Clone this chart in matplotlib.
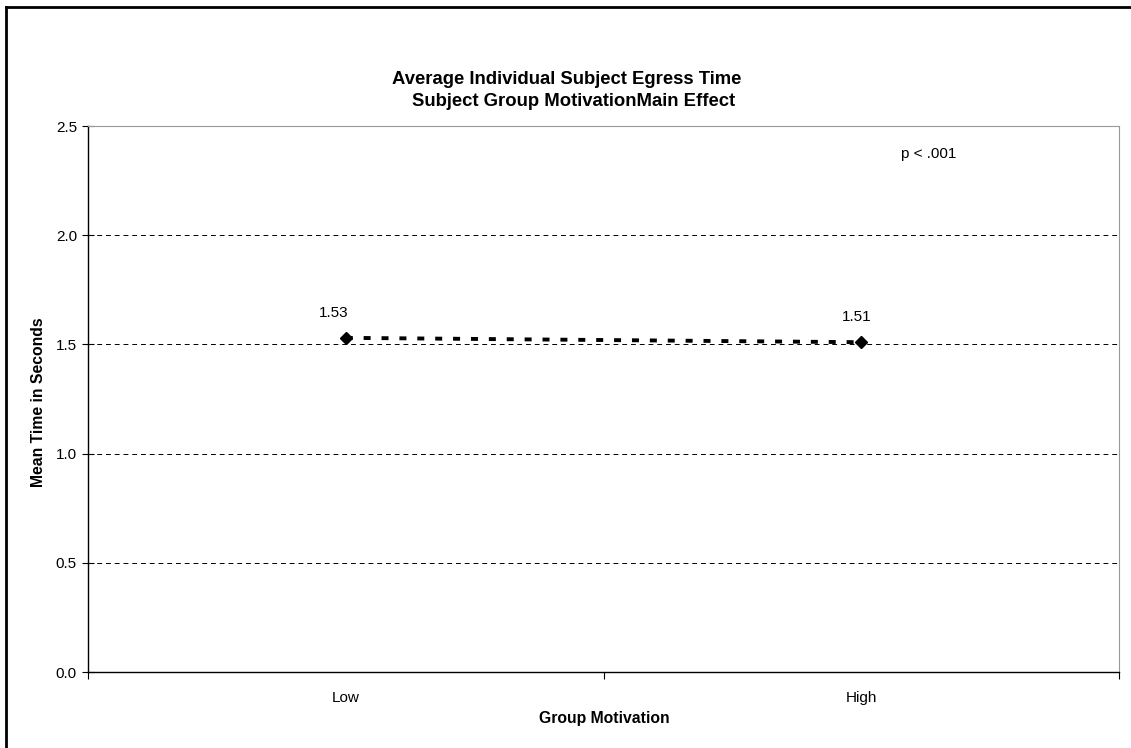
import matplotlib.pyplot as plt
from matplotlib.lines import Line2D

groups = ['Low', 'High']
mean_time = [1.53, 1.51]
point_labels = ['1.53', '1.51']
y_ticks = [0.0, 0.5, 1.0, 1.5, 2.0, 2.5]

plt.rcParams['font.family'] = ['Liberation Sans', 'DejaVu Sans']

W, H = 1131, 748
fig = plt.figure(figsize=(W / 100, H / 100), dpi=100)
ax = fig.add_axes([88 / W, 1 - 672 / H, (1119 - 88) / W, (672 - 126) / H])

x = list(range(len(groups)))
ax.plot(x, mean_time, color='black', linestyle=(0, (1.8, 2.8)), linewidth=2.8,
        marker='D', markersize=6, markerfacecolor='black', markeredgecolor='black')
for xi, yi, lab in zip(x, mean_time, point_labels):
    ax.annotate(lab, (xi, yi), xytext=(-9 if xi == 0 else -3, 18), textcoords='offset points',
                ha='center', va='center', fontsize=11)

ax.set_xlim(-0.5, 1.5)
ax.set_ylim(0, 2.5)
ax.set_yticks(y_ticks)
ax.set_yticklabels(['%.1f' % v for v in y_ticks], fontsize=11)
ax.set_xticks(x)
ax.set_xticklabels(groups, fontsize=11)
ax.set_xticks([-0.5, 0.5, 1.5], minor=True)
ax.tick_params(axis='x', which='major', length=0, pad=14)
ax.tick_params(axis='x', which='minor', length=5, direction='out', width=0.8)
ax.tick_params(axis='y', length=8, direction='inout', width=0.8, pad=4)

for v in y_ticks[1:-1]:
    ax.axhline(v, color='black', linestyle=(0, (5, 4)), linewidth=0.7, zorder=0)

ax.spines['top'].set_color('#999999')
ax.spines['right'].set_color('#999999')
ax.spines['left'].set_linewidth(1.0)
ax.spines['bottom'].set_linewidth(1.0)

ax.text(1.13, 2.37, 'p < .001', ha='center', va='center', fontsize=11)

# axis titles
fig.text(604 / W, 1 - 719 / H, 'Group Motivation', ha='center', va='center',
         fontsize=11.3, fontweight='bold')
fig.text(39 / W, 1 - 402 / H, 'Mean Time in Seconds', ha='center', va='center',
         rotation=90, fontsize=11.3, fontweight='bold')

fig.text(567 / W, 1 - 80 / H, 'Average Individual Subject Egress Time', ha='center', va='center',
         fontsize=13.3, fontweight='bold')
fig.text(574 / W, 1 - 101 / H, 'Subject Group MotivationMain Effect', ha='center', va='center',
         fontsize=13.3, fontweight='bold')

# outer chart border (only top and left visible)
fig.add_artist(Line2D([6 / W, 6 / W], [0, 1 - 7 / H], transform=fig.transFigure,
                      color='black', linewidth=2))
fig.add_artist(Line2D([6 / W, 1], [1 - 7 / H, 1 - 7 / H], transform=fig.transFigure,
                      color='black', linewidth=2))

plt.savefig('out.png', dpi=100)
